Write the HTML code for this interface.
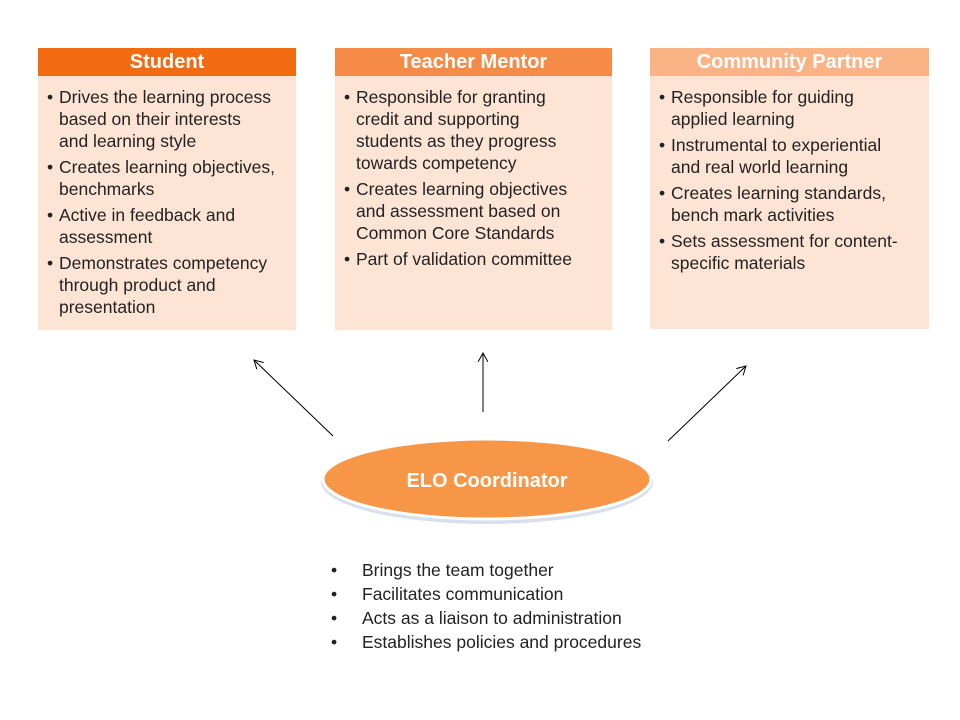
<!DOCTYPE html>
<html><head><style>
body{margin:0;width:960px;height:720px;background:#fff;font-family:"Liberation Sans",sans-serif;position:relative;overflow:hidden}
.box{position:absolute;top:48px;height:282px;background:#fde4d5}
.hd{height:28px;line-height:28px;text-align:center;color:#fff;font-weight:bold;font-size:20px}
ul{margin:0;padding:10px 0 0 21px;list-style:none;font-size:17.5px;line-height:22px;color:#222;white-space:nowrap}
li{position:relative;margin-bottom:4px}
li:before{content:"•";position:absolute;left:-12px}
.bl{position:absolute;left:331px;top:558px;font-size:17.5px;line-height:24px;color:#222;white-space:nowrap}
.bl div{position:relative;padding-left:31px}
.bl div:before{content:"•";position:absolute;left:0}
</style></head><body>
<div class="box" style="left:38px;width:258px"><div class="hd" style="background:#f26b10">Student</div>
<ul><li>Drives the learning process<br>based on their interests<br>and learning style</li><li>Creates learning objectives,<br>benchmarks</li><li>Active in feedback and<br>assessment</li><li>Demonstrates competency<br>through product and<br>presentation</li></ul></div>
<div class="box" style="left:335px;width:277px"><div class="hd" style="background:#f68b47">Teacher Mentor</div>
<ul><li>Responsible for granting<br>credit and supporting<br>students as they progress<br>towards competency</li><li>Creates learning objectives<br>and assessment based on<br>Common Core Standards</li><li>Part of validation committee</li></ul></div>
<div class="box" style="left:650px;width:279px;height:281px"><div class="hd" style="background:#f9b384">Community Partner</div>
<ul><li>Responsible for guiding<br>applied learning</li><li>Instrumental to experiential<br>and real world learning</li><li>Creates learning standards,<br>bench mark activities</li><li>Sets assessment for content-<br>specific materials</li></ul></div>
<svg width="960" height="720" style="position:absolute;left:0;top:0">
<defs><marker id="a" markerWidth="10" markerHeight="10" refX="9" refY="5" orient="auto" markerUnits="userSpaceOnUse"><path d="M0,0 L9,5 L0,10" fill="none" stroke="#000" stroke-width="1"/></marker></defs>
<g stroke="#000" stroke-width="1" marker-end="url(#a)">
<line x1="333" y1="436" x2="254" y2="360"/>
<line x1="483" y1="412" x2="483" y2="353"/>
<line x1="668" y1="441" x2="746" y2="366"/>
</g>
<ellipse cx="487" cy="482" rx="166" ry="42" fill="#c9d3e6" opacity="0.7"/>
<ellipse cx="487" cy="479" rx="164" ry="40" fill="#f79646" stroke="#fff" stroke-width="3"/>
<text x="487" y="487" text-anchor="middle" fill="#fff" font-weight="bold" font-size="20" font-family="Liberation Sans,sans-serif">ELO Coordinator</text>
</svg>
<div class="bl"><div>Brings the team together</div><div>Facilitates communication</div><div>Acts as a liaison to administration</div><div>Establishes policies and procedures</div></div>
</body></html>
